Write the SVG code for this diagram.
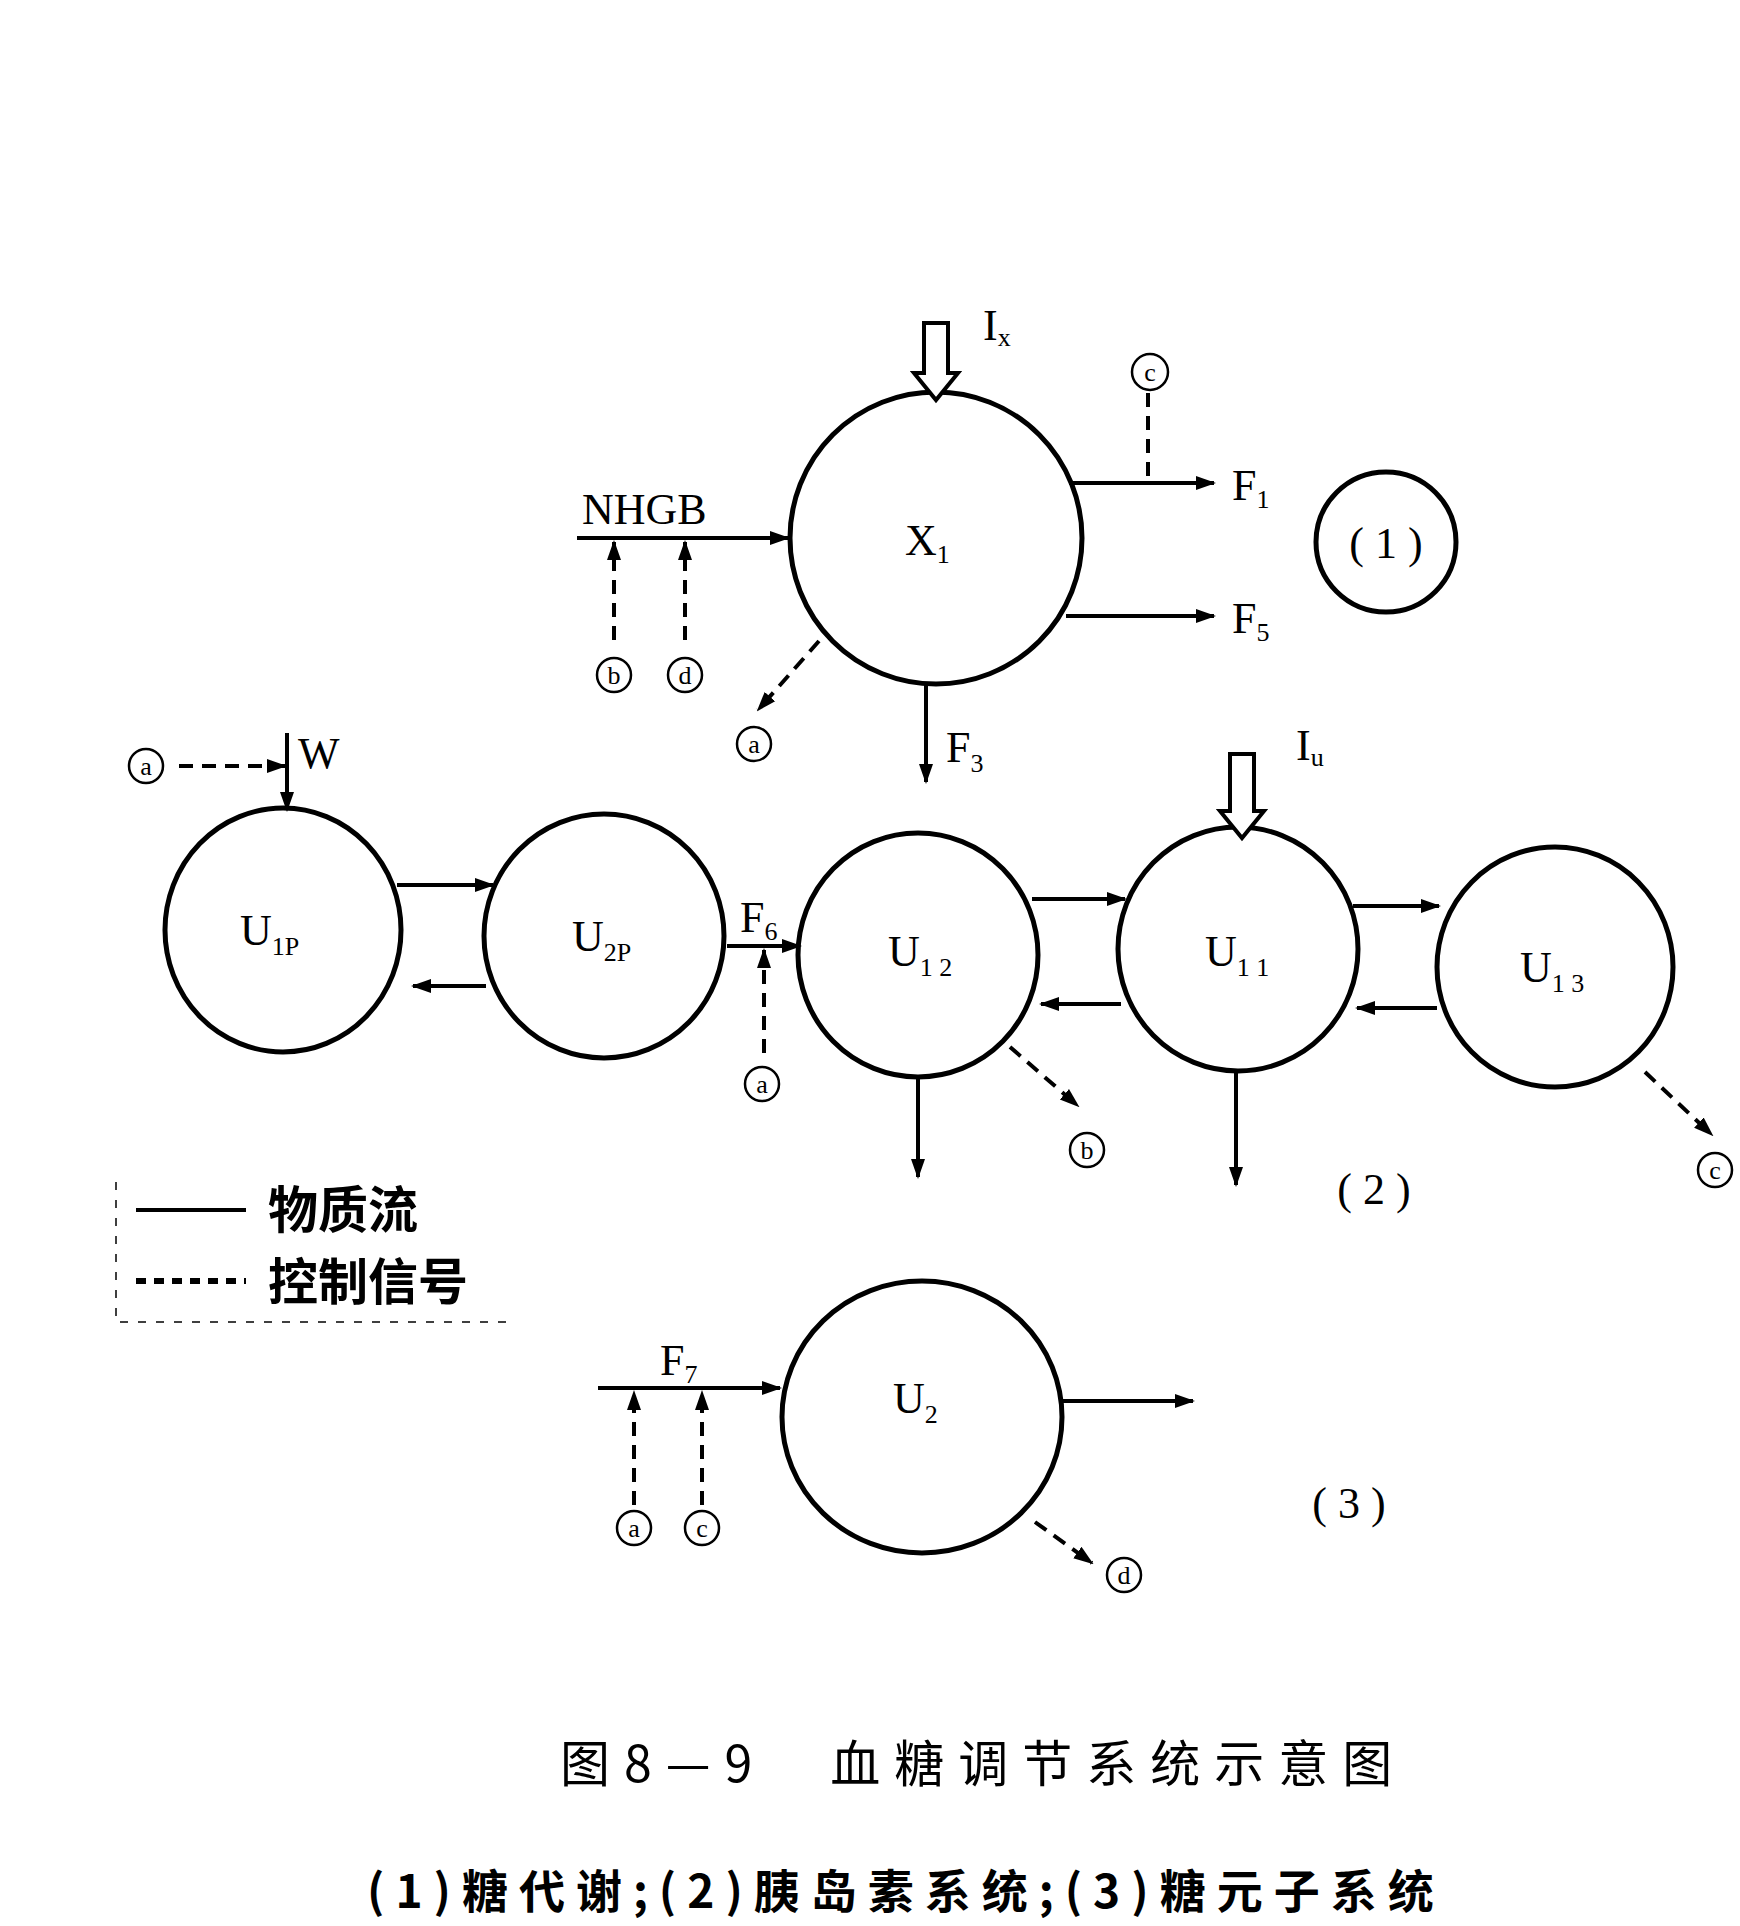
<svg xmlns="http://www.w3.org/2000/svg" width="1740" height="1926" viewBox="0 0 1740 1926">
<style>
.n{fill:none;stroke:#000;stroke-width:5}
.f{stroke:#000;stroke-width:4;fill:none}
.d{stroke:#000;stroke-width:4;fill:none;stroke-dasharray:14 9}
.t{font-family:"Liberation Serif",serif;font-size:44px;fill:#000}
.s{font-size:26px}
.cl{font-family:"Liberation Serif",serif;font-size:26px;text-anchor:middle;fill:#000}
.c{fill:none;stroke:#000;stroke-width:2.5}
.h{fill:#fff;stroke:#000;stroke-width:4}
.cj{font-family:"Noto Sans CJK SC",sans-serif;font-weight:bold;fill:#000}
</style>
<defs>
<marker id="a" viewBox="0 0 10 10" refX="9" refY="5" markerWidth="5" markerHeight="5" orient="auto-start-reverse" markerUnits="strokeWidth"><path d="M0,1.5L10,5L0,8.5z" fill="#000"/></marker>
</defs>
<g id="X1"><circle class="n" cx="936" cy="538" r="146"/><text class="t" x="905" y="555">X<tspan class="s" dy="8">1</tspan></text></g>
<g id="sys1"><circle class="n" cx="1386" cy="542" r="70"/><text class="t" x="1386" y="558" text-anchor="middle">( 1 )</text></g>
<g id="U1P"><ellipse class="n" cx="283" cy="930" rx="118" ry="122"/><text class="t" x="240" y="945">U<tspan class="s" dy="10">1P</tspan></text></g>
<g id="U2P"><ellipse class="n" cx="604" cy="936" rx="120" ry="122"/><text class="t" x="572" y="951">U<tspan class="s" dy="10">2P</tspan></text></g>
<g id="U12"><ellipse class="n" cx="918" cy="955" rx="120" ry="122"/><text class="t" x="888" y="966">U<tspan class="s" dy="10">1 2</tspan></text></g>
<g id="U11"><ellipse class="n" cx="1238" cy="949" rx="120" ry="122"/><text class="t" x="1205" y="966">U<tspan class="s" dy="10">1 1</tspan></text></g>
<g id="U13"><ellipse class="n" cx="1555" cy="967" rx="118" ry="120"/><text class="t" x="1520" y="982">U<tspan class="s" dy="10">1 3</tspan></text></g>
<g id="sys2"><text class="t" x="1374" y="1204" text-anchor="middle">( 2 )</text></g>
<g id="U2"><ellipse class="n" cx="922" cy="1417" rx="140" ry="136"/><text class="t" x="893" y="1413">U<tspan class="s" dy="10">2</tspan></text></g>
<g id="sys3"><text class="t" x="1349" y="1518" text-anchor="middle">( 3 )</text></g>
<g id="connectors">
<path class="h" d="M924,323h24v50h10l-22,27l-22,-27h10z"/>
<path class="h" d="M1230,754h24v57h10l-22,27l-22,-27h10z"/>
<line class="d" x1="1148" y1="393" x2="1148" y2="483"/>
<line class="f" x1="1069" y1="483" x2="1214" y2="483" marker-end="url(#a)"/>
<line class="f" x1="1066" y1="616" x2="1214" y2="616" marker-end="url(#a)"/>
<line class="f" x1="577" y1="538" x2="788" y2="538" marker-end="url(#a)"/>
<line class="d" x1="614" y1="640" x2="614" y2="542" marker-end="url(#a)"/>
<line class="d" x1="685" y1="640" x2="685" y2="542" marker-end="url(#a)"/>
<line class="d" x1="819" y1="641" x2="758" y2="710" marker-end="url(#a)"/>
<line class="f" x1="926" y1="684" x2="926" y2="782" marker-end="url(#a)"/>
<line class="d" x1="179" y1="766" x2="285" y2="766" marker-end="url(#a)"/>
<line class="f" x1="287" y1="733" x2="287" y2="810" marker-end="url(#a)"/>
<line class="f" x1="397" y1="885" x2="493" y2="885" marker-end="url(#a)"/>
<line class="f" x1="486" y1="986" x2="413" y2="986" marker-end="url(#a)"/>
<line class="f" x1="727" y1="946" x2="800" y2="946" marker-end="url(#a)"/>
<line class="d" x1="764" y1="1053" x2="764" y2="950" marker-end="url(#a)"/>
<line class="f" x1="1032" y1="899" x2="1125" y2="899" marker-end="url(#a)"/>
<line class="f" x1="1121" y1="1004" x2="1041" y2="1004" marker-end="url(#a)"/>
<line class="f" x1="1353" y1="906" x2="1439" y2="906" marker-end="url(#a)"/>
<line class="f" x1="1437" y1="1008" x2="1357" y2="1008" marker-end="url(#a)"/>
<line class="f" x1="918" y1="1077" x2="918" y2="1177" marker-end="url(#a)"/>
<line class="f" x1="1236" y1="1071" x2="1236" y2="1185" marker-end="url(#a)"/>
<line class="d" x1="1010" y1="1047" x2="1078" y2="1106" marker-end="url(#a)"/>
<line class="d" x1="1645" y1="1072" x2="1712" y2="1135" marker-end="url(#a)"/>
<line class="f" x1="598" y1="1388" x2="780" y2="1388" marker-end="url(#a)"/>
<line class="d" x1="634" y1="1505" x2="634" y2="1392" marker-end="url(#a)"/>
<line class="d" x1="702" y1="1505" x2="702" y2="1392" marker-end="url(#a)"/>
<line class="f" x1="1062" y1="1401" x2="1193" y2="1401" marker-end="url(#a)"/>
<line class="d" x1="1035" y1="1522" x2="1092" y2="1563" marker-end="url(#a)"/>
</g>
<g id="labels">
<text class="t" x="983" y="340">I<tspan class="s" dy="6">x</tspan></text>
<circle class="c" cx="1150" cy="372" r="18"/><text class="cl" x="1150" y="381">c</text>
<text class="t" x="1232" y="500">F<tspan class="s" dy="8">1</tspan></text>
<text class="t" x="1232" y="633">F<tspan class="s" dy="8">5</tspan></text>
<text class="t" x="582" y="524">NHGB</text>
<circle class="c" cx="614" cy="675" r="17"/><text class="cl" x="614" y="684">b</text>
<circle class="c" cx="685" cy="675" r="17"/><text class="cl" x="685" y="684">d</text>
<circle class="c" cx="754" cy="744" r="17"/><text class="cl" x="754" y="753">a</text>
<text class="t" x="946" y="762">F<tspan class="s" dy="10">3</tspan></text>
<text class="t" x="1296" y="760">I<tspan class="s" dy="6">u</tspan></text>
<circle class="c" cx="146" cy="766" r="17"/><text class="cl" x="146" y="775">a</text>
<text class="t" x="298" y="768">W</text>
<text class="t" x="740" y="932">F<tspan class="s" dy="8">6</tspan></text>
<circle class="c" cx="762" cy="1084" r="17"/><text class="cl" x="762" y="1093">a</text>
<circle class="c" cx="1087" cy="1150" r="17"/><text class="cl" x="1087" y="1159">b</text>
<circle class="c" cx="1715" cy="1170" r="17"/><text class="cl" x="1715" y="1179">c</text>
<text class="t" x="660" y="1375">F<tspan class="s" dy="8">7</tspan></text>
<circle class="c" cx="634" cy="1528" r="17"/><text class="cl" x="634" y="1537">a</text>
<circle class="c" cx="702" cy="1528" r="17"/><text class="cl" x="702" y="1537">c</text>
<circle class="c" cx="1124" cy="1575" r="17"/><text class="cl" x="1124" y="1584">d</text>
</g>
<g id="legend">
<path d="M116,1182v140h400" fill="none" stroke="#000" stroke-width="1.5" stroke-dasharray="8 10"/>
<line x1="136" y1="1210" x2="246" y2="1210" stroke="#000" stroke-width="4"/>
<line x1="136" y1="1281" x2="246" y2="1281" stroke="#000" stroke-width="6" stroke-dasharray="10 8"/>
<text class="cj" x="268" y="1228" font-size="50">物质流</text>
<text class="cj" x="268" y="1300" font-size="50">控制信号</text>
</g>
<g id="caption">
<text class="cj" x="560" y="1782" font-size="50" style="font-weight:normal" letter-spacing="14">图8—9　血糖调节系统示意图</text>
<text class="cj" x="367" y="1908" font-size="46" letter-spacing="11">(1)糖代谢;(2)胰岛素系统;(3)糖元子系统</text>
</g>
</svg>
